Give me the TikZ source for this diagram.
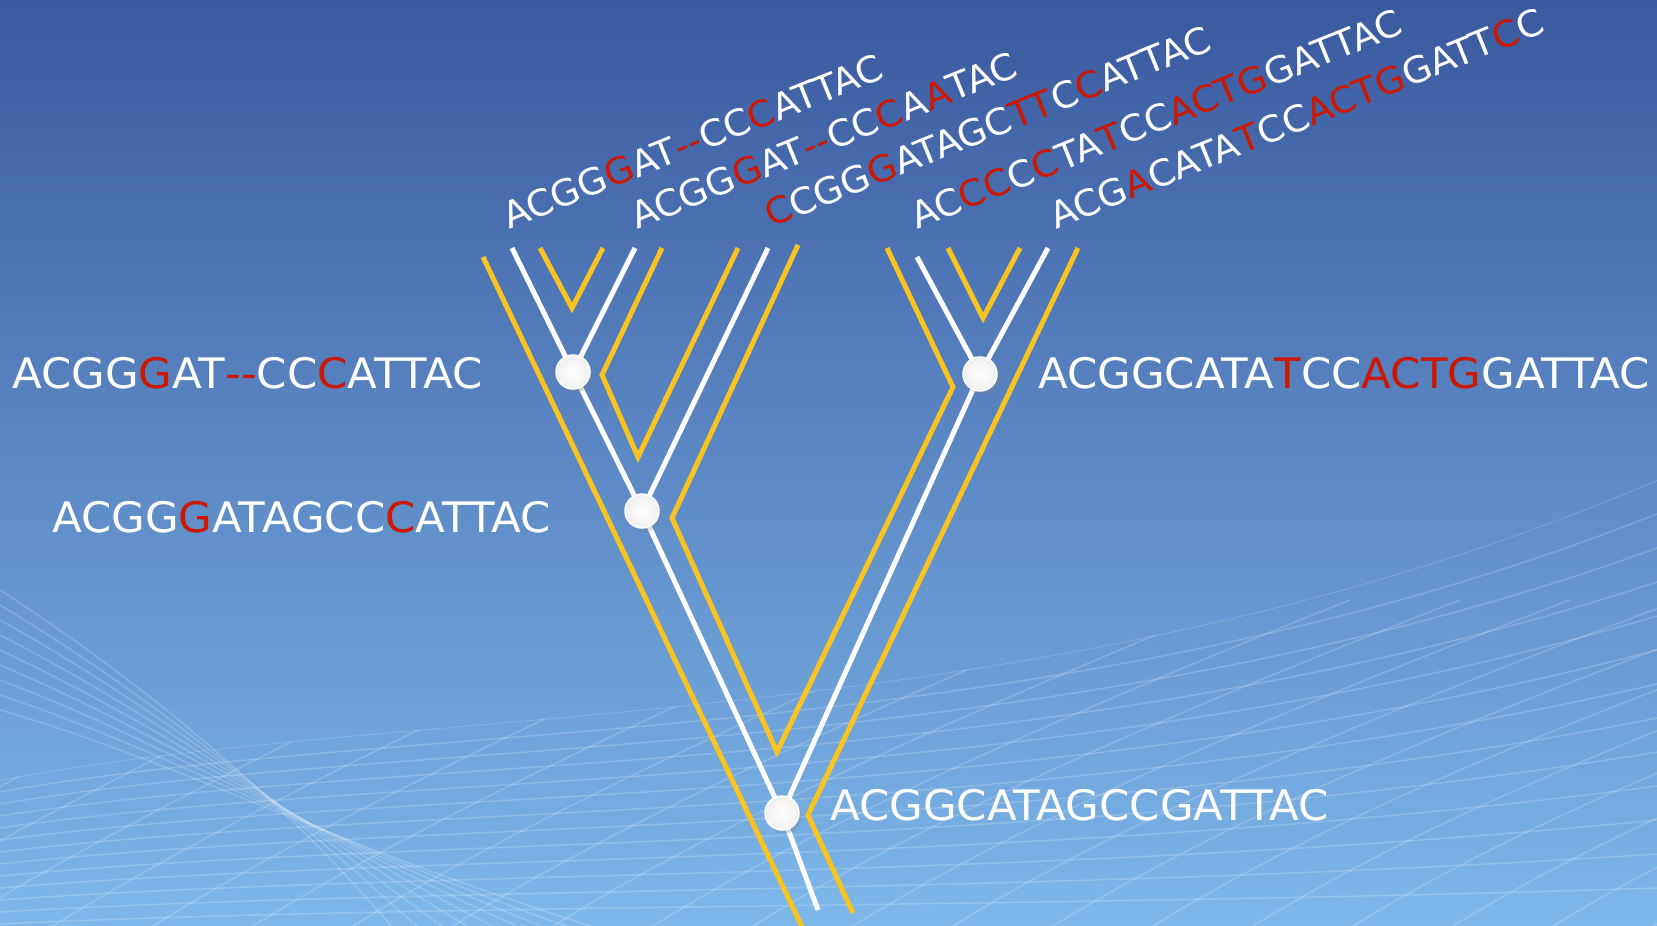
\documentclass[tikz,border=0pt]{standalone}
\usepackage{fontspec}
\setmainfont{DejaVu Sans}[FakeStretch=1.035]
\usetikzlibrary{shadows, backgrounds}
\definecolor{skytop}{RGB}{58,89,159}
\definecolor{skymid}{RGB}{90,137,196}
\definecolor{skybottom}{RGB}{126,184,234}
\definecolor{tubeyellow}{RGB}{249,196,32}
\definecolor{dnared}{RGB}{204,24,0}
\tikzset{
  tube/.style={draw=tubeyellow, line width=5pt, line cap=butt, line join=miter},
  branch/.style={draw=white, line width=5pt, line cap=butt},
  meshline/.style={draw=white, line width=1.5pt, opacity=0.18},
  anc/.style={circle, minimum size=34pt, inner sep=0pt, draw=white, line width=1.5pt,
    inner color=white, outer color=black!6,
    drop shadow={shadow xshift=2.5pt, shadow yshift=-3.5pt, opacity=0.3}},
  seq/.style={text=white, anchor=base west, inner sep=0pt, font=\fontsize{42}{50}\selectfont},
  leafseq/.style={seq, rotate=22, font=\fontsize{36.3}{44}\selectfont}
}
\newcommand{\mut}[1]{\textcolor{dnared}{#1}}

\begin{document}
\begin{tikzpicture}[x=1pt, y=-1pt]
  \useasboundingbox (0,0) rectangle (1657,926);
  \clip (0,0) rectangle (1657,926);

  % ancestors
  \node[anc] (nA) at (573,372) {};
  \node[anc] (nB) at (642,511) {};
  \node[anc] (nC) at (980,374) {};
  \node[anc] (nR) at (782,813) {};

  % leaf ends and stem
  \coordinate (l1) at (512,248);
  \coordinate (l2) at (635,248);
  \coordinate (l3) at (768,248);
  \coordinate (l4) at (917,257);
  \coordinate (l5) at (1048,248);
  \coordinate (stem) at (818,910);

  \begin{scope}[on background layer]
    \shade[top color=skytop, middle color=skymid, bottom color=skybottom] (0,0) rectangle (1657,926);

    % wire mesh
    \begin{scope}
      \clip (0,926) -- (0,780) .. controls (420,700) and (1050,740) .. (1657,480) -- (1657,926) -- cycle;
      \foreach \k in {0,...,12}
        \draw[meshline] (0,{780+12*\k}) .. controls (420,{700+17*\k}) and (1050,{740+14*\k}) .. (1657,{480+34*\k});
      \foreach \k in {0,...,20}
        \draw[meshline] ({-400+100*\k},960) .. controls ({-250+100*\k},860) and ({-50+100*\k},760) .. ({250+110*\k},600);
    \end{scope}
    \foreach \k in {0,...,8}
      \draw[meshline] (0,{590+15*\k}) .. controls (200,{720+6*\k}) and (330,850) .. ({420+35*\k},960);

    % yellow tubes
    \draw[tube] (483,257) -- (806,935);
    \draw[tube] (540,248) -- (572,308) -- (603,248);
    \draw[tube] (662,248) -- (602,375) -- (638,457) -- (738,248);
    \draw[tube] (798,245) -- (672,518) -- (777,752) -- (953,387) -- (887,248);
    \draw[tube] (948,248) -- (983,318) -- (1020,248);
    \draw[tube] (1078,248) -- (808,815) -- (853,913);

    % tree
    \draw[branch] (l1) -- (nA.center) -- (nB.center) -- (nR.center) -- (stem);
    \draw[branch] (l2) -- (nA.center);
    \draw[branch] (l3) -- (nB.center);
    \draw[branch] (l4) -- (nC.center);
    \draw[branch] (l5) -- (nC.center) -- (nR.center);
  \end{scope}

  % sequences
  \node[seq] (sA) at (12,388) {ACGG\mut{G}AT\mut{-{}-}CC\mut{C}ATTAC};
  \node[seq] (sB) at (52,532) {ACGG\mut{G}ATAGCC\mut{C}ATTAC};
  \node[seq] (sC) at (1038,388) {ACGGCATA\mut{T}CC\mut{ACTG}GATTAC};
  \node[seq] (sR) at (830,820) {ACGGCATAGCCGATTAC};

  \node[leafseq] (t1) at (509,230) {ACGG\mut{G}AT\mut{-{}-}CC\mut{C}ATTAC};
  \node[leafseq] (t2) at (637,230) {ACGG\mut{G}AT\mut{-{}-}CC\mut{C}A\mut{A}TAC};
  \node[leafseq] (t3) at (771,228) {\mut{C}CGG\mut{G}ATAGC\mut{TT}C\mut{C}ATTAC};
  \node[leafseq] (t4) at (917,230) {AC\mut{CC}C\mut{C}TA\mut{T}CC\mut{ACTG}GATTAC};
  \node[leafseq] (t5) at (1056,230) {ACG\mut{A}CATA\mut{T}CC\mut{ACTG}GATT\mut{C}C};
\end{tikzpicture}
\end{document}
